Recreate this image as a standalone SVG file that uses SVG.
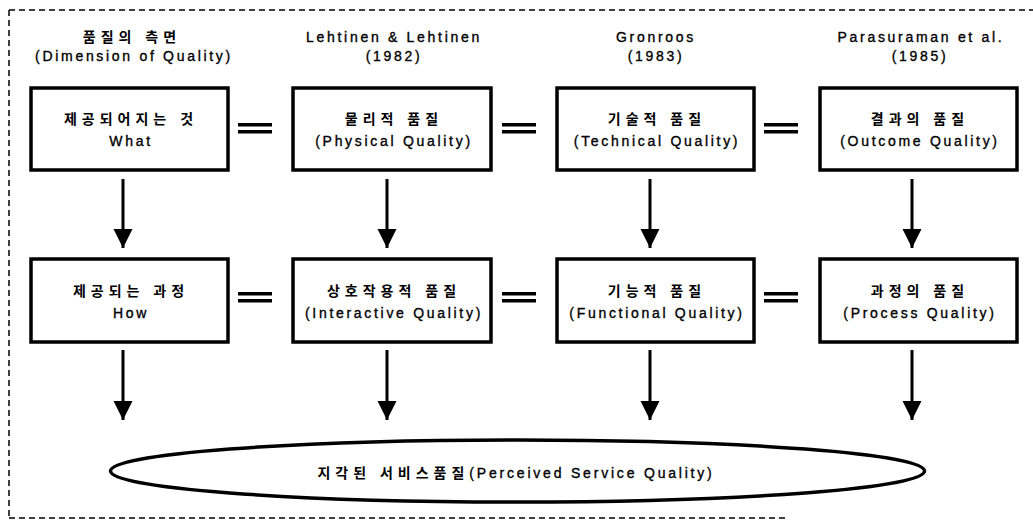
<svg xmlns="http://www.w3.org/2000/svg" width="1033" height="520" viewBox="0 0 1033 520">
<style>
.frame{fill:none;stroke:#000;stroke-width:1.5;stroke-dasharray:6 4}
.box{fill:#fff;stroke:#000;stroke-width:3.5}
.ko{font-family:"Liberation Sans","Noto Sans CJK KR",sans-serif;font-size:14px;font-weight:700;letter-spacing:5px;text-anchor:middle;fill:#000}
.en{font-family:"Liberation Sans","Noto Sans CJK KR",sans-serif;font-size:14px;letter-spacing:2.7px;text-anchor:middle;fill:#000;stroke:#000;stroke-width:0.35}
.mix{font-family:"Liberation Sans","Noto Sans CJK KR",sans-serif;font-size:14px;letter-spacing:2.8px;text-anchor:middle;fill:#000;stroke:#000;stroke-width:0.35}
.conn{stroke:#000;stroke-width:3;fill:none}
.eq{fill:#000}
</style>
<defs>
<marker id="ah" viewBox="0 0 10 10" refX="10" refY="5" markerWidth="6.5" markerHeight="6.5" markerUnits="strokeWidth" orient="auto">
<path d="M0,0 L10,5 L0,10 Z" fill="#000"/>
</marker>
</defs>
<g id="frame">
<line class="frame" x1="9" y1="10" x2="1033" y2="10"/>
<line class="frame" x1="9" y1="10" x2="9" y2="518"/>
<line class="frame" x1="9" y1="518" x2="786" y2="518"/>
</g>
<g id="headers">
<text class="ko" x="132" y="42">품질의 측면</text>
<text class="en" x="134" y="61">(Dimension of Quality)</text>
<text class="en" x="394" y="42">Lehtinen &amp; Lehtinen</text>
<text class="en" x="394" y="61">(1982)</text>
<text class="en" x="656" y="42">Gronroos</text>
<text class="en" x="656" y="61">(1983)</text>
<text class="en" x="921" y="42">Parasuraman et al.</text>
<text class="en" x="920" y="61">(1985)</text>
</g>
<g id="connectors">
<line class="conn" x1="123" y1="179" x2="123" y2="248" marker-end="url(#ah)"/>
<line class="conn" x1="387" y1="179" x2="387" y2="248" marker-end="url(#ah)"/>
<line class="conn" x1="650" y1="179" x2="650" y2="248" marker-end="url(#ah)"/>
<line class="conn" x1="912" y1="179" x2="912" y2="248" marker-end="url(#ah)"/>
<line class="conn" x1="123" y1="350" x2="123" y2="420" marker-end="url(#ah)"/>
<line class="conn" x1="387" y1="350" x2="387" y2="420" marker-end="url(#ah)"/>
<line class="conn" x1="650" y1="350" x2="650" y2="420" marker-end="url(#ah)"/>
<line class="conn" x1="912" y1="350" x2="912" y2="420" marker-end="url(#ah)"/>
</g>
<g id="equals">
<rect class="eq" x="238" y="123" width="34" height="3.5"/>
<rect class="eq" x="238" y="130" width="34" height="3.5"/>
<rect class="eq" x="502" y="123" width="34" height="3.5"/>
<rect class="eq" x="502" y="130" width="34" height="3.5"/>
<rect class="eq" x="764" y="123" width="34" height="3.5"/>
<rect class="eq" x="764" y="130" width="34" height="3.5"/>
<rect class="eq" x="238" y="292" width="34" height="3.5"/>
<rect class="eq" x="238" y="299" width="34" height="3.5"/>
<rect class="eq" x="502" y="292" width="34" height="3.5"/>
<rect class="eq" x="502" y="299" width="34" height="3.5"/>
<rect class="eq" x="764" y="292" width="34" height="3.5"/>
<rect class="eq" x="764" y="299" width="34" height="3.5"/>
</g>
<g id="what">
<rect class="box" x="31" y="88" width="197" height="82"/>
<text class="ko" x="131" y="124">제공되어지는 것</text>
<text class="en" x="131" y="146">What</text>
</g>
<g id="physical">
<rect class="box" x="293" y="88" width="198" height="82"/>
<text class="ko" x="394" y="124">물리적 품질</text>
<text class="en" x="394" y="146">(Physical Quality)</text>
</g>
<g id="technical">
<rect class="box" x="557" y="88" width="197" height="82"/>
<text class="ko" x="657" y="124">기술적 품질</text>
<text class="en" x="657" y="146">(Technical Quality)</text>
</g>
<g id="outcome">
<rect class="box" x="820" y="88" width="197" height="82"/>
<text class="ko" x="920" y="124">결과의 품질</text>
<text class="en" x="920" y="146">(Outcome Quality)</text>
</g>
<g id="how">
<rect class="box" x="31" y="259" width="197" height="83"/>
<text class="ko" x="131" y="296">제공되는 과정</text>
<text class="en" x="131" y="318">How</text>
</g>
<g id="interactive">
<rect class="box" x="293" y="259" width="198" height="83"/>
<text class="ko" x="394" y="296">상호작용적 품질</text>
<text class="en" x="394" y="318">(Interactive Quality)</text>
</g>
<g id="functional">
<rect class="box" x="557" y="259" width="197" height="83"/>
<text class="ko" x="657" y="296">기능적 품질</text>
<text class="en" x="657" y="318">(Functional Quality)</text>
</g>
<g id="process">
<rect class="box" x="820" y="259" width="197" height="83"/>
<text class="ko" x="920" y="296">과정의 품질</text>
<text class="en" x="920" y="318">(Process Quality)</text>
</g>
<g id="perceived">
<ellipse class="box" cx="517.5" cy="471" rx="407" ry="31"/>
<text class="mix" x="516" y="478"><tspan font-weight="700" letter-spacing="5px" stroke-width="0">지각된 서비스품질</tspan>(Perceived Service Quality)</text>
</g>
</svg>
